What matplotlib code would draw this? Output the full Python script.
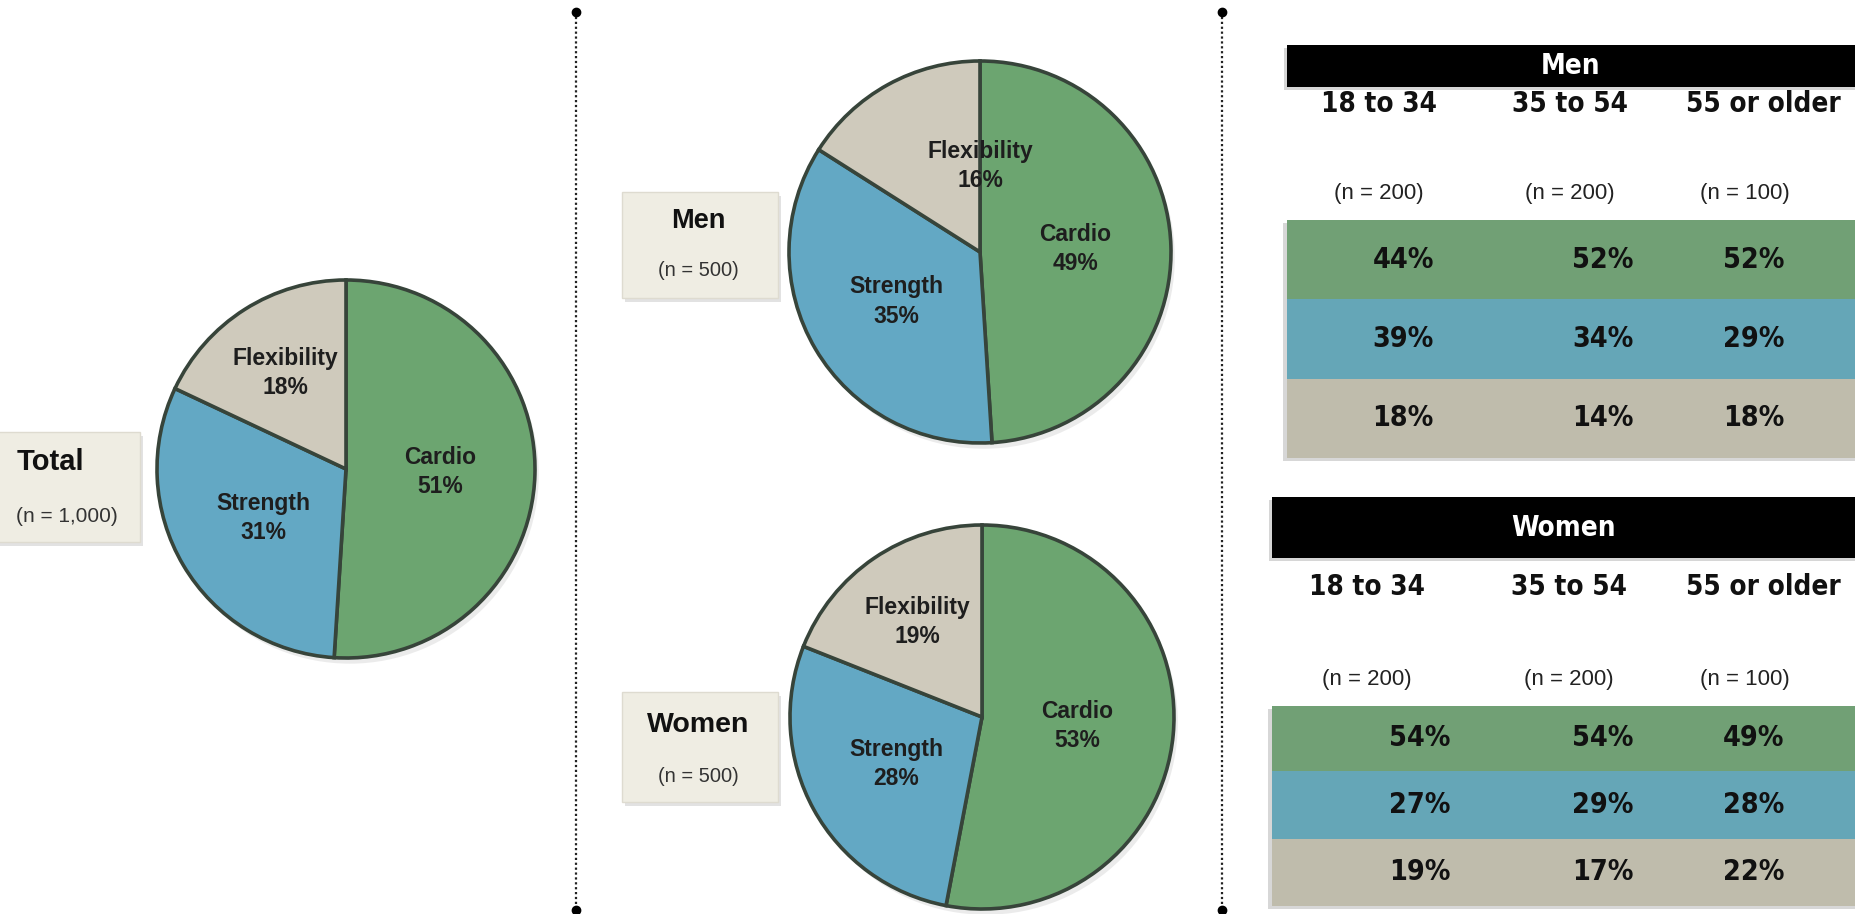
import matplotlib
matplotlib.use("Agg")
import matplotlib.pyplot as plt
from matplotlib.patches import Rectangle
import numpy as np

# ---------------- data ----------------
categories = ["Cardio", "Strength", "Flexibility"]
total_vals = [51, 31, 18]
men_vals = [49, 35, 16]
women_vals = [53, 28, 19]
group_names = ["Total", "Men", "Women"]
group_n = ["(n = 1,000)", "(n = 500)", "(n = 500)"]

age_groups = ["18 to 34", "35 to 54", "55 or older"]
age_n = ["(n = 200)", "(n = 200)", "(n = 100)"]
men_age_cardio = [44, 52, 52]
men_age_strength = [39, 34, 29]
men_age_flex = [18, 14, 18]
women_age_cardio = [54, 54, 49]
women_age_strength = [27, 29, 28]
women_age_flex = [19, 17, 22]

# ---------------- style ----------------
pie_colors = ["#6ca570", "#63a8c4", "#cfcabc"]
row_colors = ["#71a075", "#65a6b7", "#bfbcac"]
edge_col = "#37443a"
box_fill = "#efede3"
narrow = ["Liberation Sans Narrow", "DejaVu Sans"]
arial = ["Liberation Sans", "DejaVu Sans"]
NSTRETCH = "condensed"

W, H = 1855, 914
fig = plt.figure(figsize=(W / 100, H / 100), dpi=100)
fig.patch.set_facecolor("white")

bg = fig.add_axes([0, 0, 1, 1])
bg.set_xlim(0, W)
bg.set_ylim(H, 0)
bg.axis("off")

# ---------------- dotted separators ----------------
for x in [576, 1222]:
    bg.plot([x, x], [12, 910], ls=(0, (1, 1.2)), color="#222222", lw=1.6, zorder=1)
    bg.plot([x, x], [12, 910], ls="none", marker="o", ms=6, color="black", zorder=2)


# ---------------- pies ----------------
def draw_pie(cx, cy, r, vals, flex_nudge=None):
    ax = fig.add_axes([(cx - r * 1.05) / W, 1 - (cy + r * 1.05) / H,
                       2.1 * r / W, 2.1 * r / H])
    ax.pie([1], radius=1.0, colors=["#d8d8d8"], center=(0.02, -0.03),
           wedgeprops=dict(linewidth=0, alpha=0.5))
    wedges, _ = ax.pie(vals, colors=pie_colors, startangle=90, counterclock=False,
                       radius=1.0,
                       wedgeprops=dict(edgecolor=edge_col, linewidth=2.6))
    ax.set_xlim(-1.05, 1.05)
    ax.set_ylim(-1.05, 1.05)
    ax.set_aspect("equal")
    ax.axis("off")
    dists = [0.5, 0.51, 0.6]
    for i, w in enumerate(wedges):
        mid = np.deg2rad((w.theta1 + w.theta2) / 2)
        x, y = dists[i] * np.cos(mid), dists[i] * np.sin(mid)
        if i == 2 and flex_nudge is not None:
            x, y = flex_nudge
        ax.text(x, y, f"{categories[i]}\n{vals[i]}%", ha="center", va="center",
                fontsize=16.5, fontweight="bold", family=arial, color="#1e1e1e",
                linespacing=1.35)
    return ax


draw_pie(346, 469, 189, total_vals)
draw_pie(980, 252, 191, men_vals, flex_nudge=(0.0, 0.45))
draw_pie(982, 717, 192, women_vals)


# ---------------- label boxes ----------------
def label_box(x0, y0, x1, y1, name, n, tx1, tx2, ty1, ty2, fs, nfs):
    bg.add_patch(Rectangle((x0 + 3, y0 + 4), x1 - x0, y1 - y0, facecolor="#cfcfcf",
                           edgecolor="none", alpha=0.6, zorder=3))
    bg.add_patch(Rectangle((x0, y0), x1 - x0, y1 - y0, facecolor=box_fill,
                           edgecolor="#dedbd0", lw=1, zorder=4))
    bg.text(tx1, ty1, name, ha="center", va="center", fontsize=fs, fontweight="bold",
            family=arial, color="#111111", zorder=5)
    bg.text(tx2, ty2, n, ha="center", va="center", fontsize=nfs, family=arial,
            color="#333333", zorder=5)


label_box(-5, 432, 140, 542, group_names[0], group_n[0], 50, 67, 462, 516, 21, 15)
label_box(622, 192, 778, 298, group_names[1], group_n[1], 698, 698, 221, 271, 19.5, 14.5)
label_box(622, 692, 778, 802, group_names[2], group_n[2], 698, 698, 725, 776, 20.5, 14.5)


# ---------------- tables ----------------
def draw_table(x0, hdr_top, hdr_bot, title, col_x, col_y, n_x, n_y, row_edges,
               val_x, rows):
    x1 = W
    bg.add_patch(Rectangle((x0 - 3, hdr_top + 3), x1 - x0 + 3, hdr_bot - hdr_top,
                           facecolor="#bbbbbb", edgecolor="none", alpha=0.6, zorder=3))
    bg.add_patch(Rectangle((x0, hdr_top), x1 - x0, hdr_bot - hdr_top,
                           facecolor="black", edgecolor="none", zorder=4))
    bg.text((x0 + x1) / 2 + 0, (hdr_top + hdr_bot) / 2, title, ha="center",
            va="center", fontsize=20, fontweight="bold", family=narrow,
            fontstretch=NSTRETCH, color="white", zorder=5)
    for i, lab in enumerate(age_groups):
        bg.text(col_x[i], col_y, lab, ha="center", va="center", fontsize=20,
                fontweight="bold", family=narrow, fontstretch=NSTRETCH,
                color="#111111", zorder=5)
        bg.text(n_x[i], n_y, age_n[i], ha="center", va="center", fontsize=16,
                family=arial, color="#222222", zorder=5)
    bg.add_patch(Rectangle((x0 - 4, row_edges[0] + 3), x1 - x0 + 4,
                           row_edges[-1] - row_edges[0], facecolor="#bdbdbd",
                           edgecolor="none", alpha=0.6, zorder=3))
    for r, vals in enumerate(rows):
        bg.add_patch(Rectangle((x0, row_edges[r]), x1 - x0,
                               row_edges[r + 1] - row_edges[r],
                               facecolor=row_colors[r], edgecolor="none", zorder=4))
        yc = (row_edges[r] + row_edges[r + 1]) / 2
        for c, v in enumerate(vals):
            bg.text(val_x[c], yc, f"{v}%", ha="center", va="center", fontsize=20.5,
                    fontweight="bold", family=narrow, fontstretch=NSTRETCH,
                    color="#111111", zorder=5)


draw_table(1287, 45, 87, "Men",
           col_x=[1379, 1570, 1763], col_y=104,
           n_x=[1379, 1570, 1745], n_y=193,
           row_edges=[220, 299, 379, 458],
           val_x=[1403, 1603, 1754],
           rows=[men_age_cardio, men_age_strength, men_age_flex])

draw_table(1272, 497, 558, "Women",
           col_x=[1367, 1569, 1763], col_y=587,
           n_x=[1367, 1569, 1745], n_y=680,
           row_edges=[706, 771, 839, 906],
           val_x=[1420, 1603, 1754],
           rows=[women_age_cardio, women_age_strength, women_age_flex])

fig.savefig("out.png", dpi=100, facecolor="white")
